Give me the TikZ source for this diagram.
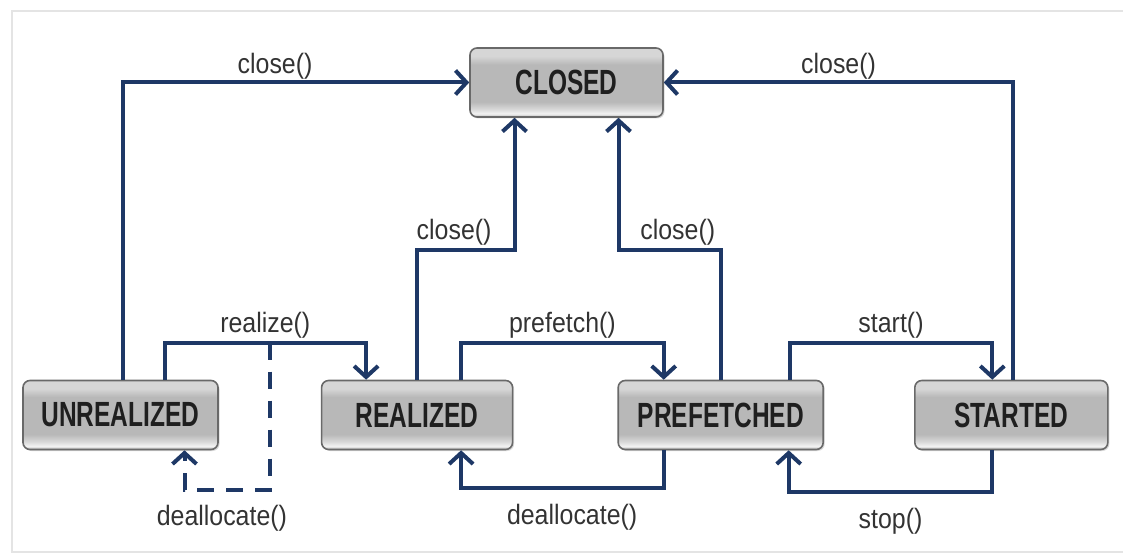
\documentclass[tikz,border=0pt]{standalone}
\usepackage{fontspec}
\setmainfont{Liberation Sans}[FakeStretch=0.89]
\newfontfamily\statefont{Liberation Sans}[FakeStretch=0.70]
\usepackage{xcolor}
\usepackage{tikz}
\usetikzlibrary{arrows.meta,positioning,calc,shadows}

\definecolor{flowblue}{RGB}{30,56,102}
\definecolor{btnedge}{RGB}{105,105,105}
\definecolor{btnmid}{RGB}{184,184,184}
\definecolor{btnlite}{RGB}{214,214,214}
\definecolor{btnglow}{RGB}{242,242,242}
\definecolor{framegray}{RGB}{228,228,228}

\pgfdeclareverticalshading{button}{100bp}{color(0bp)=(btnmid); color(25bp)=(btnmid);
  color(27.5bp)=(btnglow); color(31bp)=(btnlite); color(36bp)=(btnmid);
  color(63bp)=(btnmid); color(69bp)=(btnlite); color(75bp)=(btnlite); color(100bp)=(btnlite)}

\begin{document}
\begin{tikzpicture}[x=1pt, y=1pt, node distance=102pt,
    state/.style={rectangle, draw=btnedge, line width=1.6pt, rounded corners=7pt, shading=button,
      minimum width=193pt, minimum height=69pt, text=black!88,
      font=\statefont\bfseries\fontsize{35}{35}\selectfont,
      drop shadow={shadow xshift=1.5pt, shadow yshift=-1.5pt, opacity=0.3}},
    flow/.style={draw=flowblue, line width=4pt, -{Straight Barb[length=11pt,width=24pt]}},
    call/.style={font=\fontsize{28}{28}\selectfont, text=black!80, inner sep=2pt}]

    % panel
    \useasboundingbox (0,0) rectangle (1123,555);
    \draw[framegray, line width=2.5pt] (1123,544) -- (12,544) -- (12,3) -- (1123,3);

    % states
    \node[state] (cl) at (566.5,472.5) {CLOSED};
    \node[state, minimum width=195pt] (un) at (120.5,140) {UNREALIZED};
    \node[state, minimum width=191pt, right=of un] (re) {REALIZED};
    \node[state, minimum width=205pt, right=104pt of re] (pf) {PREFETCHED};
    \node[state, right=90pt of pf] (st) {STARTED};

    % close() transitions
    \draw[flow] ([xshift=2pt]un.north) |- node[call, above, inner sep=1pt, pos=0.72] (cu) {close()} (cl.west);
    \draw[flow] ([xshift=2pt]st.north) |- node[call, above, inner sep=1pt, pos=0.75] (cs) {close()} (cl.east);
    \draw[flow] (re.north) -- ++(0,130) -| node[call, above, pos=0.19] (cr) {close()} ([xshift=-52pt]cl.south);
    \draw[flow] (pf.north) -- ++(0,130) -| node[call, above, pos=0.21] (cp) {close()} ([xshift=52pt]cl.south);

    % forward transitions
    \draw[flow] ([xshift=44pt]un.north) -- ++(0,37) coordinate (rz)
        -| node[call, above, pos=0.25] (lrz) {realize()} ([xshift=-51pt]re.north);
    \draw[flow] ([xshift=44pt]re.north) -- ++(0,37)
        -| node[call, above, pos=0.25] (lpf) {prefetch()} ([xshift=-57pt]pf.north);
    \draw[flow] ([xshift=69pt]pf.north) -- ++(0,37)
        -| node[call, above, pos=0.25] (lst) {start()} ([xshift=-19pt]st.north);

    % backward transitions
    \draw[flow, dash pattern=on 17pt off 12pt] ([xshift=105pt]rz) -- ++(0,-147)
        -| node[call, below=12pt, pos=0.28] (lda) {deallocate()} ([xshift=64pt]un.south);
    \draw[flow] ([xshift=-57pt]pf.south) -- ++(0,-38)
        -| node[call, below=12pt, pos=0.226] (ldb) {deallocate()} ([xshift=44pt]re.south);
    \draw[flow] ([xshift=-19pt]st.south) -- ++(0,-42)
        -| node[call, below=12pt, pos=0.25] (lsp) {stop()} ([xshift=68pt]pf.south);

\end{tikzpicture}
\end{document}
